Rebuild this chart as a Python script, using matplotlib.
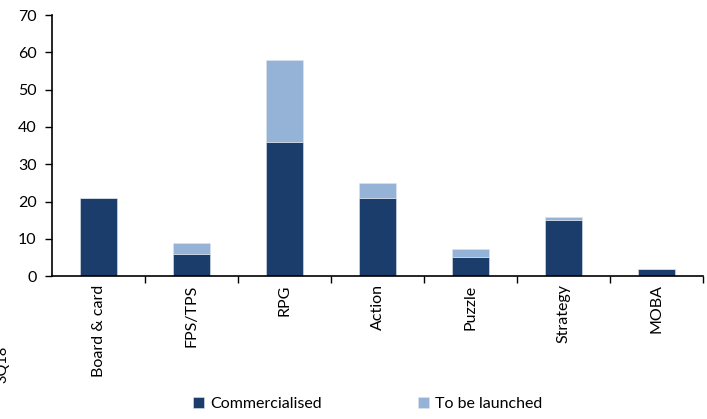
import matplotlib
matplotlib.use("Agg")
import matplotlib.pyplot as plt
import numpy as np

categories = ["Board & card", "FPS/TPS", "RPG", "Action", "Puzzle", "Strategy", "MOBA"]
commercialised = [21, 6, 36, 21, 5, 15, 2]
to_be_launched = [0, 3, 22, 4, 2.4, 0.9, 0]

plt.rcParams['font.family'] = ['Lato', 'DejaVu Sans']

fig = plt.figure(figsize=(7.07, 4.19), dpi=100)
ax = fig.add_axes([0.0736, 0.341, 0.9207, 0.623])

x = np.arange(len(categories))
dark = "#1B3D6B"
light = "#95B3D7"
ax.bar(x, commercialised, width=0.4, color=dark, label="Commercialised", edgecolor="#dfe6ef", linewidth=0.4)
ax.bar(x, to_be_launched, width=0.4, bottom=commercialised, color=light, label="To be launched", edgecolor="#dfe6ef", linewidth=0.4)

ax.set_xlim(-0.5, len(categories) - 0.5)
ax.set_ylim(0, 70)
ax.set_yticks(range(0, 71, 10))
ax.set_xticks(x)
ax.set_xticklabels(categories, rotation=90, fontsize=11.5)
ax.tick_params(axis='x', length=0, pad=6)
ax.set_xticks(np.arange(0.5, len(categories), 1), minor=True)
ax.tick_params(axis='x', which='minor', length=5, direction='out', width=1)
ax.tick_params(axis='y', length=5, direction='out', width=1, labelsize=11.5, pad=6)
for s in ['top', 'right']:
    ax.spines[s].set_visible(False)
for s in ['left', 'bottom']:
    ax.spines[s].set_linewidth(1.2)

fig.legend(loc='lower center', bbox_to_anchor=(0.52, -0.015), ncol=2, frameon=False,
           fontsize=11.5, handlelength=0.7, handleheight=0.7, columnspacing=6, handletextpad=0.4)

fig.text(-0.006, 0.13, "3Q18", rotation=90, fontsize=10.5, va='center', ha='left')

fig.savefig("out.png", dpi=100)
